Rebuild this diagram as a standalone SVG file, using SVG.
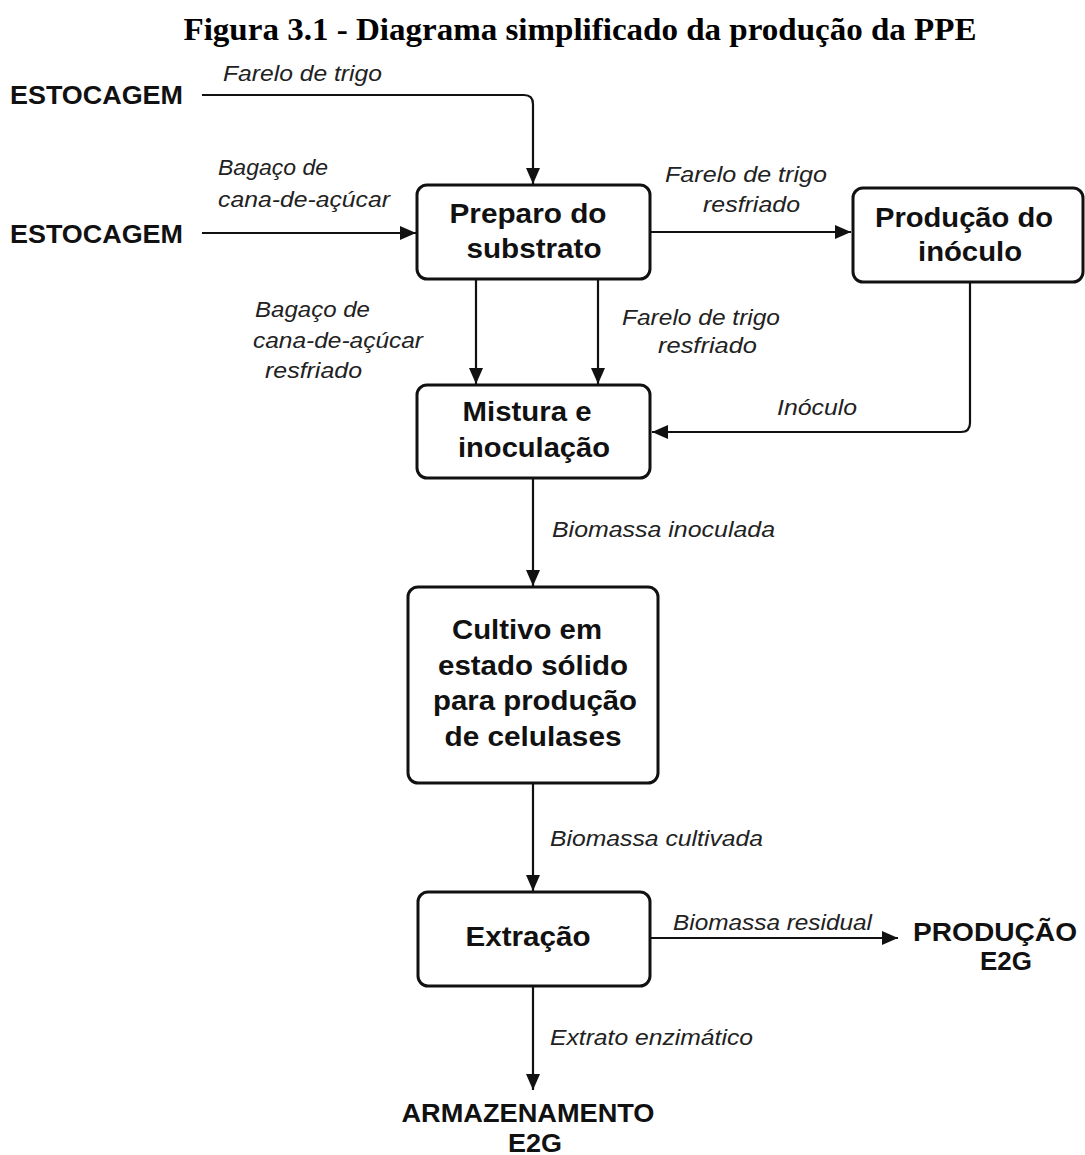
<svg xmlns="http://www.w3.org/2000/svg" width="1085" height="1155" viewBox="0 0 1085 1155">
<defs>
<marker id="arr" viewBox="0 0 16 14" refX="16" refY="7" markerWidth="16" markerHeight="14" markerUnits="userSpaceOnUse" orient="auto">
<path d="M0,0 L16,7 L0,14 z" fill="#111"/>
</marker>
<style>
.title{font-family:"Liberation Serif","Times New Roman",serif;font-weight:bold;font-size:32px;fill:#000;text-anchor:middle}
.box{fill:#fff;stroke:#111;stroke-width:3}
.node{font-family:"Liberation Sans",Arial,sans-serif;font-weight:bold;font-size:28px;fill:#111;text-anchor:middle}
.term{font-family:"Liberation Sans",Arial,sans-serif;font-weight:bold;font-size:25px;fill:#111}
.lbl{font-family:"Liberation Sans",Arial,sans-serif;font-style:italic;font-size:22px;fill:#222}
.conn{fill:none;stroke:#111;stroke-width:2.2}
</style>
</defs>
<rect width="1085" height="1155" fill="#fff"/>
<text class="title" x="580" y="40" textLength="793" lengthAdjust="spacingAndGlyphs">Figura 3.1 - Diagrama simplificado da produção da PPE</text>

<g id="connectors">
<path class="conn" d="M202,95 H524 Q533,95 533,104 V184" marker-end="url(#arr)"/>
<path class="conn" d="M202,233 H416" marker-end="url(#arr)"/>
<path class="conn" d="M650,232 H851" marker-end="url(#arr)"/>
<path class="conn" d="M476,279 V384" marker-end="url(#arr)"/>
<path class="conn" d="M598,279 V384" marker-end="url(#arr)"/>
<path class="conn" d="M970,282 V423 Q970,432 961,432 H652" marker-end="url(#arr)"/>
<path class="conn" d="M533,478 V586" marker-end="url(#arr)"/>
<path class="conn" d="M533,783 V891" marker-end="url(#arr)"/>
<path class="conn" d="M650,938 H898" marker-end="url(#arr)"/>
<path class="conn" d="M533,986 V1090" marker-end="url(#arr)"/>

<text class="lbl" x="223" y="81" textLength="159" lengthAdjust="spacingAndGlyphs">Farelo de trigo</text>
<text class="lbl" x="218" y="175" textLength="110" lengthAdjust="spacingAndGlyphs">Bagaço de</text>
<text class="lbl" x="218" y="207" textLength="172" lengthAdjust="spacingAndGlyphs">cana-de-açúcar</text>
<text class="lbl" x="665" y="182" textLength="162" lengthAdjust="spacingAndGlyphs">Farelo de trigo</text>
<text class="lbl" x="703" y="212" textLength="97" lengthAdjust="spacingAndGlyphs">resfriado</text>
<text class="lbl" x="255" y="317" textLength="115" lengthAdjust="spacingAndGlyphs">Bagaço de</text>
<text class="lbl" x="253" y="348" textLength="170" lengthAdjust="spacingAndGlyphs">cana-de-açúcar</text>
<text class="lbl" x="265" y="378" textLength="97" lengthAdjust="spacingAndGlyphs">resfriado</text>
<text class="lbl" x="622" y="325" textLength="158" lengthAdjust="spacingAndGlyphs">Farelo de trigo</text>
<text class="lbl" x="658" y="353" textLength="99" lengthAdjust="spacingAndGlyphs">resfriado</text>
<text class="lbl" x="777" y="415" textLength="80" lengthAdjust="spacingAndGlyphs">Inóculo</text>
<text class="lbl" x="552" y="537" textLength="223" lengthAdjust="spacingAndGlyphs">Biomassa inoculada</text>
<text class="lbl" x="550" y="846" textLength="213" lengthAdjust="spacingAndGlyphs">Biomassa cultivada</text>
<text class="lbl" x="673" y="930" textLength="199" lengthAdjust="spacingAndGlyphs">Biomassa residual</text>
<text class="lbl" x="550" y="1045" textLength="203" lengthAdjust="spacingAndGlyphs">Extrato enzimático</text>
</g>

<g id="estocagem1">
<text class="term" x="10" y="104" textLength="173" lengthAdjust="spacingAndGlyphs">ESTOCAGEM</text>
</g>
<g id="estocagem2">
<text class="term" x="10" y="243" textLength="173" lengthAdjust="spacingAndGlyphs">ESTOCAGEM</text>
</g>

<g id="preparo">
<rect class="box" x="417" y="185" width="233" height="94" rx="10"/>
<text class="node" x="528" y="223" textLength="157" lengthAdjust="spacingAndGlyphs">Preparo do</text>
<text class="node" x="534" y="258" textLength="135" lengthAdjust="spacingAndGlyphs">substrato</text>
</g>

<g id="producao-inoculo">
<rect class="box" x="853" y="188" width="230" height="94" rx="10"/>
<text class="node" x="964" y="227" textLength="178" lengthAdjust="spacingAndGlyphs">Produção do</text>
<text class="node" x="970" y="261" textLength="104" lengthAdjust="spacingAndGlyphs">inóculo</text>
</g>

<g id="mistura">
<rect class="box" x="417" y="385" width="233" height="93" rx="10"/>
<text class="node" x="527" y="421" textLength="129" lengthAdjust="spacingAndGlyphs">Mistura e</text>
<text class="node" x="534" y="457" textLength="152" lengthAdjust="spacingAndGlyphs">inoculação</text>
</g>

<g id="cultivo">
<rect class="box" x="408" y="587" width="250" height="196" rx="10"/>
<text class="node" x="527" y="639" textLength="150" lengthAdjust="spacingAndGlyphs">Cultivo em</text>
<text class="node" x="533" y="675" textLength="190" lengthAdjust="spacingAndGlyphs">estado sólido</text>
<text class="node" x="535" y="710" textLength="204" lengthAdjust="spacingAndGlyphs">para produção</text>
<text class="node" x="533" y="746" textLength="177" lengthAdjust="spacingAndGlyphs">de celulases</text>
</g>

<g id="extracao">
<rect class="box" x="418" y="892" width="232" height="94" rx="10"/>
<text class="node" x="528" y="946" textLength="125" lengthAdjust="spacingAndGlyphs">Extração</text>
</g>

<g id="producao-e2g">
<text class="term" x="995" y="941" text-anchor="middle" textLength="164" lengthAdjust="spacingAndGlyphs">PRODUÇÃO</text>
<text class="term" x="1006" y="970" text-anchor="middle" textLength="52" lengthAdjust="spacingAndGlyphs">E2G</text>
</g>

<g id="armazenamento-e2g">
<text class="term" x="528" y="1122" text-anchor="middle" textLength="253" lengthAdjust="spacingAndGlyphs">ARMAZENAMENTO</text>
<text class="term" x="535" y="1152" text-anchor="middle" textLength="54" lengthAdjust="spacingAndGlyphs">E2G</text>
</g>
</svg>
